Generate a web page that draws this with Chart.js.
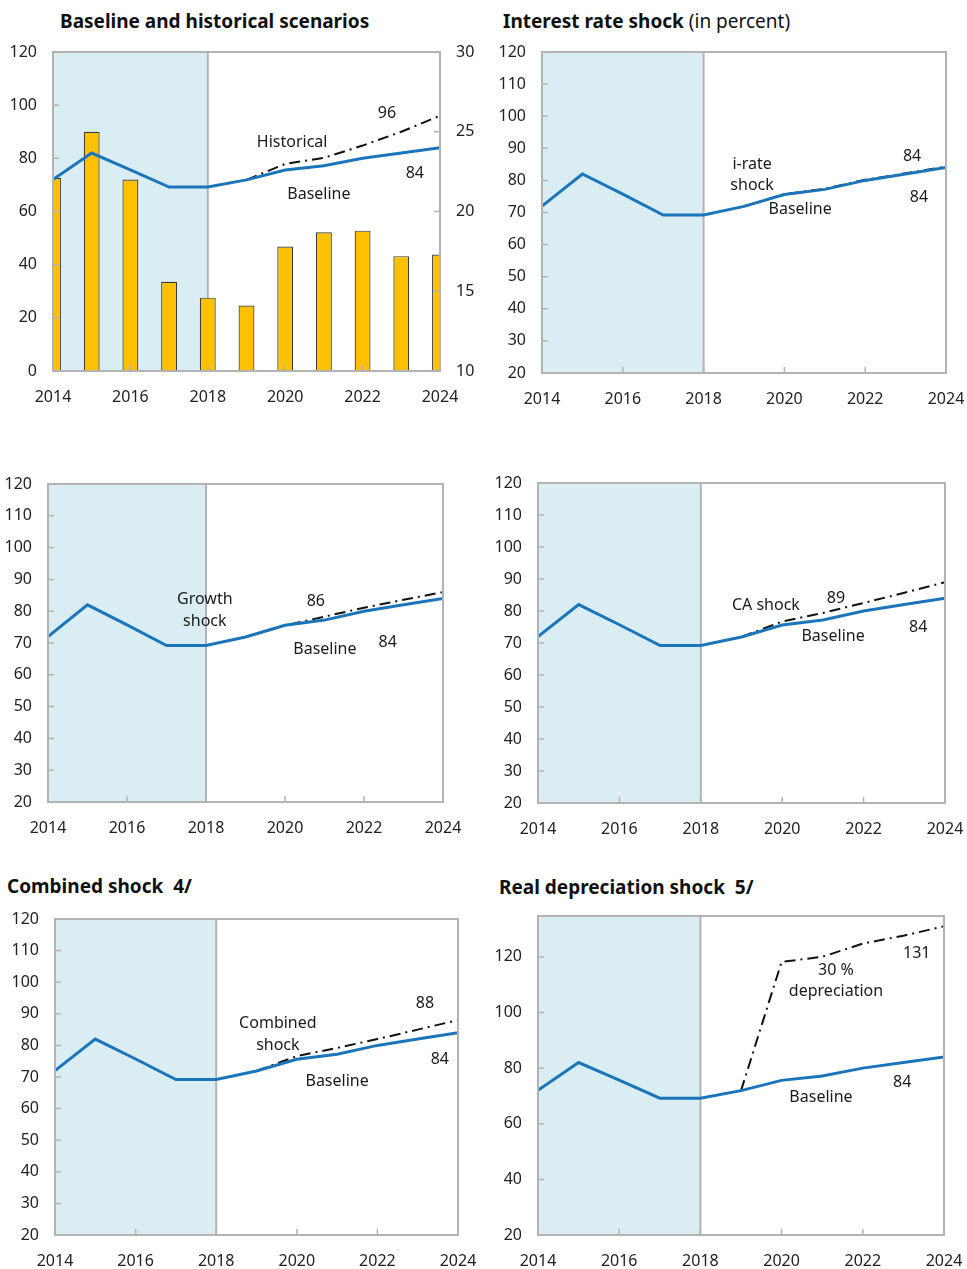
<!DOCTYPE html>
<html>
<head>
<meta charset="utf-8">
<script src="https://cdn.jsdelivr.net/npm/chart.js@4.4.1/dist/chart.umd.min.js"></script>
<style>
  body { margin: 0; background: #fff; font-family: 'Noto Sans', sans-serif; }
  #page { position: relative; width: 967px; height: 1269px; overflow: hidden; }
  .title { position: absolute; font-size: 19px; font-weight: bold; color: #111; white-space: nowrap; line-height: 1; }
  .title span { font-weight: normal; }
  canvas { position: absolute; }
</style>
</head>
<body>
<div id="page">
  <div class="title" style="left:60px;top:12px">Baseline and historical scenarios</div>
  <div class="title" style="left:503px;top:12px">Interest rate shock<span> (in percent)</span></div>
  <div class="title" style="left:7px;top:877px">Combined shock&nbsp; 4/</div>
  <div class="title" style="left:499px;top:878px">Real depreciation shock&nbsp; 5/</div>
</div>
<script>
const years = [2014, 2015, 2016, 2017, 2018, 2019, 2020, 2021, 2022, 2023, 2024];

// debt ratio, baseline path
const baseline = [72, 82, 75.7, 69.2, 69.2, 71.9, 75.6, 77.2, 80, 82, 84];

// shock scenarios (start from the 2019 baseline)
const historical   = [null, null, null, null, null, 71.9, 77.9, 80.2, 84.8, 90, 96];
const iRateShock   = [null, null, null, null, null, 71.9, 75.7, 77.4, 80.2, 82.2, 84.3];
const growthShock  = [null, null, null, null, null, 71.9, 75.5, 78.3, 81.1, 83.6, 86];
const caShock      = [null, null, null, null, null, 71.9, 76.7, 79.4, 82.5, 85.7, 89];
const combinedShock = [null, null, null, null, null, 71.9, 76.6, 79.2, 82, 85, 88];
const depreciation = [null, null, null, null, null, 71.9, 118.2, 120, 124.8, 127.6, 131];

// bars on the right axis of the first panel
const barValues = [22.1, 25.0, 22.0, 15.6, 14.6, 14.1, 17.8, 18.7, 18.8, 17.2, 17.3];

const projectionStart = 2018;

const BLUE = '#1b75bb';
const SHADE = '#daedf2';
const FRAME = '#b3b3b3';
const FONT = "'Noto Sans', sans-serif";

function pts(vals) {
  return years.map((yr, i) => ({ x: yr, y: vals[i] }));
}

const decor = {
  id: 'decor',
  beforeDatasetsDraw(chart) {
    const { ctx, chartArea: a, scales } = chart;
    const xe = scales.x.getPixelForValue(projectionStart);
    ctx.save();
    ctx.fillStyle = SHADE;
    ctx.fillRect(a.left, a.top, xe - a.left, a.bottom - a.top);
    ctx.strokeStyle = FRAME;
    ctx.lineWidth = 2;
    ctx.beginPath();
    ctx.moveTo(xe, a.top);
    ctx.lineTo(xe, a.bottom);
    ctx.stroke();
    ctx.restore();
  },
  afterDatasetsDraw(chart, args, opts) {
    const { ctx, chartArea: a, scales } = chart;
    ctx.save();
    ctx.strokeStyle = FRAME;
    ctx.lineWidth = 2;
    ctx.strokeRect(a.left, a.top, a.right - a.left, a.bottom - a.top);
    // short tick marks pointing into the plot
    ctx.lineWidth = 1.5;
    ctx.beginPath();
    scales.y.ticks.forEach(t => {
      const py = scales.y.getPixelForValue(t.value);
      ctx.moveTo(a.left, py); ctx.lineTo(a.left + 6, py);
    });
    if (scales.y2) {
      scales.y2.ticks.forEach(t => {
        const py = scales.y2.getPixelForValue(t.value);
        ctx.moveTo(a.right, py); ctx.lineTo(a.right - 6, py);
      });
    }
    scales.x.ticks.forEach(t => {
      const px = scales.x.getPixelForValue(t.value);
      ctx.moveTo(px, a.bottom); ctx.lineTo(px, a.bottom - 6);
    });
    ctx.stroke();
    // line labels
    ctx.fillStyle = '#1a1a1a';
    ctx.font = '16px ' + FONT;
    ctx.textAlign = 'center';
    ctx.textBaseline = 'middle';
    (opts.notes || []).forEach(n => {
      ctx.fillText(n.text, scales.x.getPixelForValue(n.x), scales.y.getPixelForValue(n.y));
    });
    ctx.restore();
  }
};

const tickFont = { family: FONT, size: 16 };

function yScale(min, max, step, position) {
  return {
    type: 'linear',
    position: position,
    min: min,
    max: max,
    afterBuildTicks: s => { s.ticks = s.ticks.filter(t => (t.value - min) % step === 0); },
    afterFit: s => {
      s.width = position === 'right' ? 45 : 60;
      s.paddingTop = 0; s.paddingBottom = 0;
    },
    ticks: { stepSize: step, padding: 16, color: '#222', font: tickFont },
    grid: { display: false, drawTicks: false },
    border: { display: false }
  };
}

function buildPanel(p) {
  const page = document.getElementById('page');
  const c = document.createElement('canvas');
  const w = p.box.r - p.box.l + 60 + 45;
  const h = p.box.b - p.box.t + 15 + 45;
  c.width = w; c.height = h;
  c.style.width = w + 'px'; c.style.height = h + 'px';
  c.style.left = (p.box.l - 60) + 'px';
  c.style.top = (p.box.t - 15) + 'px';
  page.appendChild(c);

  const datasets = [
    { label: 'Baseline', data: pts(baseline), borderColor: BLUE, borderWidth: 3,
      pointRadius: 0, tension: 0, yAxisID: 'y' },
    { label: p.shockName, data: pts(p.shock), borderColor: '#111', borderWidth: 2,
      borderDash: [11, 5, 2, 5], pointRadius: 0, tension: 0, yAxisID: 'y' }
  ];
  const scales = {
    x: {
      type: 'linear', min: 2014, max: 2024, offset: false,
      afterFit: s => { s.height = 45; s.paddingLeft = 0; s.paddingRight = 0; },
      ticks: { stepSize: 2, autoSkip: false, maxRotation: 0, padding: 17, color: '#222',
               font: tickFont, callback: v => String(v) },
      grid: { display: false, drawTicks: false },
      border: { display: false }
    },
    y: yScale(p.y[0], p.y[1], p.y[2], 'left')
  };
  if (p.bars) {
    datasets.push({ type: 'bar', label: 'bars', data: pts(p.bars), yAxisID: 'y2',
      backgroundColor: '#ffc000', borderColor: '#3a3a3a', borderWidth: 1.2,
      barPercentage: 0.41, categoryPercentage: 1, clip: 0 });
    scales.y2 = yScale(10, 30, 5, 'right');
  }

  new Chart(c, {
    type: 'line',
    data: { datasets },
    options: {
      responsive: false,
      animation: false,
      devicePixelRatio: 1,
      layout: { padding: { left: 0, top: 15, right: p.bars ? 0 : 45, bottom: 0 } },
      scales,
      plugins: {
        legend: { display: false },
        tooltip: { enabled: false },
        decor: { notes: p.notes }
      }
    },
    plugins: [decor]
  });
}

const panels = [
  { box: { l: 53, t: 52, r: 440, b: 371 }, y: [0, 120, 20], shock: historical, shockName: 'Historical',
    bars: barValues,
    notes: [{ text: '96', x: 2022.63, y: 97 }, { text: 'Historical', x: 2020.18, y: 85.8 },
            { text: '84', x: 2023.35, y: 74.5 }, { text: 'Baseline', x: 2020.87, y: 66.6 }] },
  { box: { l: 542, t: 52, r: 946, b: 373 }, y: [20, 120, 10], shock: iRateShock, shockName: 'i-rate shock',
    notes: [{ text: '84', x: 2023.16, y: 87.6 }, { text: 'i-rate', x: 2019.2, y: 85.1 },
            { text: 'shock', x: 2019.2, y: 78.3 }, { text: 'Baseline', x: 2020.39, y: 71.1 },
            { text: '84', x: 2023.33, y: 74.8 }] },
  { box: { l: 48, t: 484, r: 443, b: 802 }, y: [20, 120, 10], shock: growthShock, shockName: 'Growth shock',
    notes: [{ text: 'Growth', x: 2017.97, y: 83.6 }, { text: 'shock', x: 2017.97, y: 76.7 },
            { text: '86', x: 2020.78, y: 83 }, { text: 'Baseline', x: 2021.01, y: 68 },
            { text: '84', x: 2022.6, y: 70.2 }] },
  { box: { l: 538, t: 483, r: 945, b: 803 }, y: [20, 120, 10], shock: caShock, shockName: 'CA shock',
    notes: [{ text: 'CA shock', x: 2019.6, y: 81.6 }, { text: '89', x: 2021.32, y: 84 },
            { text: 'Baseline', x: 2021.25, y: 71.9 }, { text: '84', x: 2023.34, y: 75 }] },
  { box: { l: 55, t: 919, r: 458, b: 1235 }, y: [20, 120, 10], shock: combinedShock, shockName: 'Combined shock',
    notes: [{ text: '88', x: 2023.18, y: 93.4 }, { text: 'Combined', x: 2019.53, y: 87.1 },
            { text: 'shock', x: 2019.53, y: 80.1 }, { text: '84', x: 2023.55, y: 75.4 },
            { text: 'Baseline', x: 2021, y: 68.7 }] },
  { box: { l: 538, t: 916, r: 944, b: 1235 }, y: [20, 134.7, 20], shock: depreciation, shockName: '30 % depreciation',
    notes: [{ text: '131', x: 2023.33, y: 121.4 }, { text: '30 %', x: 2021.34, y: 115.3 },
            { text: 'depreciation', x: 2021.34, y: 107.4 }, { text: '84', x: 2022.97, y: 74.7 },
            { text: 'Baseline', x: 2020.97, y: 69.6 }] }
];

panels.forEach(buildPanel);
</script>
</body>
</html>
